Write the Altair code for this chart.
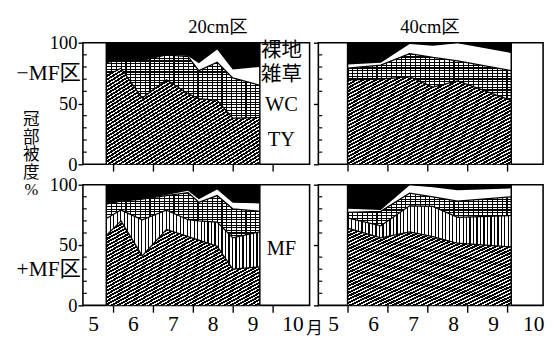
import math
import altair as alt
import pandas as pd

# ---------------- data ----------------
# sampling dates, in month units (6.0 = 1 June)
LEFT_DATES = [5.82, 6.19, 6.72, 7.33, 7.87, 8.14, 8.60, 8.99, 9.67]
RIGHT_DATES = [5.85, 6.68, 7.40, 7.98, 8.60, 9.94]

# canopy cover (%) per species: TY, MF, WC, weeds (bare ground = rest)
TL_TY = [73, 79, 54.5, 69.5, 58, 54, 52.5, 38, 38.5]
TL_WC = [10.5, 7.5, 31, 20.5, 30.5, 23, 31.5, 33, 26.5]
TL_WEED = [0, 0, 0, 0, 0.5, 6, 10.5, 7, 15]

BL_TY = [58, 70, 41, 63, 57, 54, 49, 30, 32]
BL_MF = [14, 9, 30, 16, 14, 16, 20, 26, 29]
BL_WC = [12, 7.5, 17, 12, 22.5, 15.5, 22, 24, 17]
BL_WEED = [0, 0, 0, 0.5, 1.5, 2.5, 5, 5, 6.5]

TR_TY = [69.5, 70, 72, 63.5, 68.5, 52.5]
TR_WC = [9.5, 11.5, 19, 24.5, 16.5, 24.5]
TR_WEED = [3, 2, 8, 9.5, 14.5, 14.5]

BR_TY = [64, 56, 61, 57, 51.5, 48.5]
BR_MF = [8.5, 10, 21.5, 25, 21.5, 26]
BR_WC = [4.5, 12, 10.5, 8, 13.5, 15.5]
BR_WEED = [3, 1, 6.5, 8, 9, 7]

MONTHS = [5, 6, 7, 8, 9, 10]
LEGEND_NAMES = ["裸地", "雑草", "WC", "TY"]
MF_NAME = "MF"
TITLES = ["20cm区", "40cm区"]
ROW_NAMES = ["−MF区", "+MF区"]
Y_TITLE = ["冠", "部", "被", "度", "%"]
MONTH_UNIT = "月"

# ---------------- styling / geometry ----------------
FONT = "Liberation Serif, Noto Sans CJK JP"
LW, RW = 233, 231
TH, BH = 125, 124
LEFT_XDOM = [5.234, 10.917]
RIGHT_XDOM = [5.12, 10.735]
LEFT_TICKS = [6, 7, 8, 9, 10]
RIGHT_TICKS = [5.84, 6.84, 7.84, 8.84, 9.84]
CLEAR = "rgba(255,255,255,0)"


def stripes(n, frac, x1, y1, x2, y2, dark="#000000", light="#ffffff"):
    stops = []
    for i in range(n):
        a = i / n
        b = (i + frac) / n
        c = (i + 1) / n
        stops += [
            alt.GradientStop(offset=a, color=dark),
            alt.GradientStop(offset=b, color=dark),
            alt.GradientStop(offset=b, color=light),
            alt.GradientStop(offset=min(c, 1.0), color=light),
        ]
    return alt.LinearGradient(gradient="linear", stops=stops, x1=x1, y1=y1, x2=x2, y2=y2)


def txt(text, x, y, size, align="center", baseline="middle", **kw):
    return alt.Chart(alt.Data(values=[{}])).mark_text(
        text=text, fontSize=size, font=FONT, align=align, baseline=baseline,
        color="black", **kw
    ).encode(x=x, y=y)


def panel(dates, ty, mf, wc, weed, xdom, ticks, w, h, show_ylabels, extras):
    n = len(dates)
    mf = mf if mf is not None else [0] * n
    df = pd.DataFrame({"m": dates})
    df["b0"] = 0.0
    df["b1"] = ty
    df["b2"] = df["b1"] + pd.Series(mf)
    df["b3"] = df["b2"] + pd.Series(wc)
    df["b4"] = df["b3"] + pd.Series(weed)
    df["b5"] = 100.0

    ax_x = alt.Axis(values=ticks, labels=False, tickSize=7, title=None,
                    domain=False, grid=False, tickWidth=1.4)
    if show_ylabels:
        ax_y = alt.Axis(values=[0, 50, 100], tickSize=5, labelPadding=1,
                        labelFontSize=19, labelFont=FONT, title=None,
                        domain=False, grid=False, tickWidth=1.4)
    else:
        ax_y = alt.Axis(values=[0, 50, 100], tickSize=5, labels=False,
                        title=None, domain=False, grid=False, tickWidth=1.4)
    xs = alt.Scale(domain=xdom, nice=False, zero=False)
    ys = alt.Scale(domain=[0, 100], nice=False)
    X = alt.X("m:Q", scale=xs, axis=ax_x)

    def Y(f):
        return alt.Y(f + ":Q", scale=ys, axis=ax_y)

    ppm = w / (xdom[1] - xdom[0])
    W = (dates[-1] - dates[0]) * ppm
    H_ty = max(df["b1"]) * h / 100
    n_ty = max(4, round(2 * W * H_ty / math.hypot(W, H_ty) / 3.1))
    H_wc = (max(df["b3"]) - min(df["b2"])) * h / 100
    n_wc = max(3, round(H_wc / 2.8))
    n_wcv = max(3, round(W / 5.0))
    n_mf = max(4, round(W / 3.6))

    base = alt.Chart(df)
    layers = [
        base.mark_area(color=stripes(n_ty, 0.62, 0, 0, 1, 1, light="#f2f2f2")).encode(
            x=X, y=Y("b1"), y2="b0"),
    ]
    has_mf = max(mf) > 0
    if has_mf:
        layers.append(base.mark_area(color=stripes(n_mf, 0.34, 0, 0, 1, 0)).encode(
            x=X, y=Y("b2"), y2="b1"))
    layers += [
        base.mark_area(color=stripes(n_wc, 0.42, 0, 0, 0, 1)).encode(x=X, y=Y("b3"), y2="b2"),
        base.mark_area(color=stripes(n_wcv, 0.22, 0, 0, 1, 0, light=CLEAR)).encode(
            x=X, y=Y("b3"), y2="b2"),
        base.mark_area(color="white").encode(x=X, y=Y("b4"), y2="b3"),
        base.mark_area(color="black").encode(x=X, y=Y("b5"), y2="b4"),
    ]
    folds = ["b1", "b2", "b3"] if has_mf else ["b1", "b3"]
    layers.append(
        base.transform_fold(folds).mark_line(color="black", strokeWidth=1.3).encode(
            x=X, y=alt.Y("value:Q", scale=ys, axis=ax_y), detail="key:N")
    )
    ends = pd.DataFrame({"m": [dates[0], dates[-1]]})
    layers.append(
        alt.Chart(ends).mark_rule(color="black", strokeWidth=1.5).encode(
            x=X, y=alt.datum(0), y2=alt.datum(100))
    )
    minor = pd.DataFrame({"v": [10, 20, 30, 40, 60, 70, 80, 90]})
    layers.append(
        alt.Chart(minor).mark_rule(color="black", strokeWidth=1.2).encode(
            y=alt.Y("v:Q", scale=ys, axis=ax_y), x=alt.value(0), x2=alt.value(4))
    )
    layers += extras
    return alt.layer(*layers).properties(width=w, height=h)


def month_labels(h):
    d = pd.DataFrame({"m": [k + 0.5 for k in MONTHS], "t": [str(k) for k in MONTHS]})
    return alt.Chart(d).mark_text(fontSize=22, font=FONT, color="black",
                                  baseline="middle").encode(
        x="m:Q", y=alt.value(h + 19), text="t:N")


legend_pos = pd.DataFrame({"t": LEGEND_NAMES, "m": [10.21] * 4,
                           "p": [92.8, 73.6, 48.8, 20.0]})
legend_layer = alt.Chart(legend_pos).mark_text(
    fontSize=21, font=FONT, color="black", baseline="middle").encode(
    x="m:Q", y="p:Q", text="t:N")

tl = panel(LEFT_DATES, TL_TY, None, TL_WC, TL_WEED, LEFT_XDOM, LEFT_TICKS, LW, TH, True, [
    txt(TITLES[0], alt.datum(8.62), alt.value(-16), 19),
    legend_layer,
    txt(ROW_NAMES[0], alt.value(-2), alt.value(31), 22, align="right"),
    txt(Y_TITLE, alt.value(-53), alt.value(72), 17, baseline="top", lineHeight=18),
])
tr = panel(RIGHT_DATES, TR_TY, None, TR_WC, TR_WEED, RIGHT_XDOM, RIGHT_TICKS, RW, TH, False, [
    txt(TITLES[1], alt.datum(7.91), alt.value(-16), 19),
])
bl = panel(LEFT_DATES, BL_TY, BL_MF, BL_WC, BL_WEED, LEFT_XDOM, LEFT_TICKS, LW, BH, True, [
    txt(MF_NAME, alt.datum(10.21), alt.datum(46.8), 21),
    txt(ROW_NAMES[1], alt.value(-2), alt.value(87), 22, align="right"),
    month_labels(BH),
    txt(MONTH_UNIT, alt.datum(11.04), alt.value(148), 17),
])
br = panel(RIGHT_DATES, BR_TY, BR_MF, BR_WC, BR_WEED, RIGHT_XDOM, RIGHT_TICKS, RW, BH, False, [
    month_labels(BH),
])

chart = alt.concat(
    tl, tr, bl, br, columns=2, spacing={"row": 21, "column": 9},
    bounds="flush", align="each",
).properties(
    padding={"left": 7, "top": 5, "right": 0, "bottom": 0},
    background="white",
).configure_view(
    stroke="black", strokeWidth=1.6, fill="white"
).configure_axis(
    labelColor="black", tickColor="black"
)

chart.save("out.html", embed_options={"renderer": "svg", "actions": False})
